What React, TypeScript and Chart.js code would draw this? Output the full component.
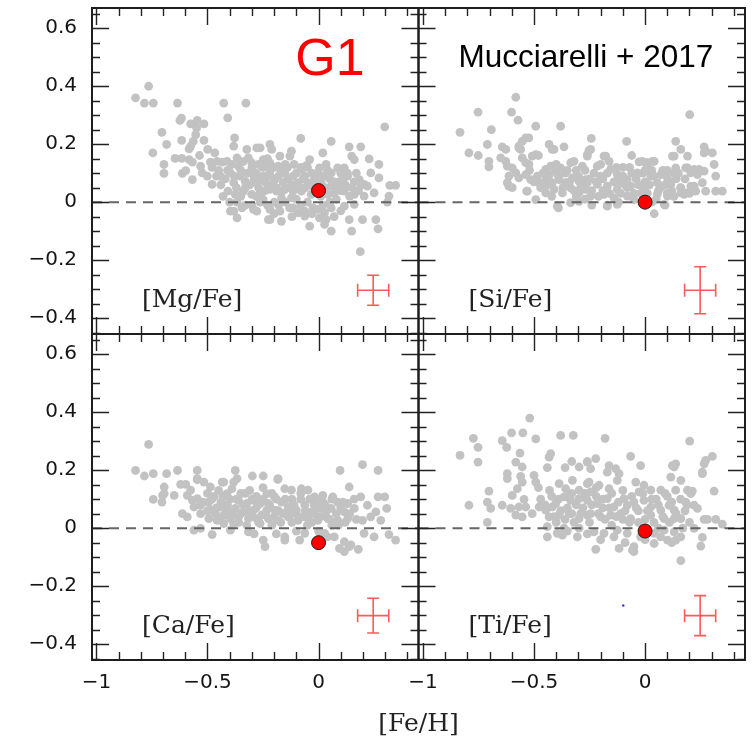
import { useEffect, useRef } from 'react';
import { Chart, registerables } from 'chart.js';

Chart.register(...registerables);

// ---------- axes ----------
const X_MIN = -1.02;
const X_MAX = 0.45;
const Y_MIN = -0.455;
const Y_MAX = 0.67;
const X_TICKS = [-1, -0.5, 0];
const Y_TICKS = [-0.4, -0.2, 0, 0.2, 0.4, 0.6];
const X_TITLE = '[Fe/H]';
const PANEL_LABELS = ['[Mg/Fe]', '[Si/Fe]', '[Ca/Fe]', '[Ti/Fe]'];
const TITLE_G1 = 'G1';
const TITLE_REF = 'Mucciarelli + 2017';

// ---------- data: [Fe/H], [X/Fe] ----------
const MG_POINTS: number[][] = [
  [-0.824,0.36],[-0.765,0.40],[-0.784,0.342],[-0.744,0.342],[-0.635,0.342],[-0.427,0.342],[-0.327,0.342],[-0.409,0.291],
  [-0.617,0.29],[-0.624,0.282],[-0.576,0.27],[-0.546,0.282],[-0.516,0.27],[-0.549,0.256],[-0.705,0.241],[-0.553,0.233],
  [-0.684,0.199],[-0.616,0.213],[-0.564,0.21],[-0.576,0.193],[-0.583,0.184],[-0.516,0.213],[-0.378,0.222],[-0.382,0.193],
  [-0.499,0.182],[-0.467,0.17],[-0.536,0.161],[-0.746,0.17],[-0.646,0.151],[-0.616,0.151],[-0.583,0.147],[-0.568,0.138],
  [-0.696,0.13],[-0.696,0.099],[-0.613,0.099],[-0.598,0.109],[-0.568,0.078],[-0.531,0.124],[-0.524,0.101],[-0.501,0.09],
  [-0.487,0.138],[-0.457,0.141],[-0.434,0.138],[-0.412,0.141],[-0.479,0.061],[-0.442,0.09],[-0.397,0.101],[-0.367,0.153],
  [-0.36,0.124],[-0.382,0.067],[-0.323,0.182],[-0.316,0.153],[-0.301,0.136],[-0.278,0.187],[-0.263,0.187],[-0.353,0.09],
  [-0.33,0.072],[-0.308,0.101],[-0.278,0.067],[-0.249,0.09],[-0.408,0.038],[-0.375,0.027],[-0.338,0.038],[-0.301,0.027],
  [-0.263,0.032],[-0.382,-0.031],[-0.367,-0.054],[-0.345,-0.02],[-0.293,-0.025],[-0.278,-0.031],[-0.226,-0.06],[-0.249,0.147],
  [-0.233,0.124],[-0.226,0.055],[-0.367,0.0],[-0.263,0.0],[-0.397,-0.031],
  [-0.08,0.22],[0.057,0.21],[-0.219,0.199],[-0.211,0.182],[-0.174,0.159],[-0.129,0.159],[-0.122,0.176],[0.138,0.191],
  [0.19,0.191],[0.019,0.17],[-0.04,0.147],[-0.055,0.126],[-0.077,0.113],[0.034,0.13],[0.004,0.118],[0.057,0.101],
  [0.086,0.118],[0.149,0.159],[0.161,0.147],[0.228,0.149],[0.272,0.13],[0.235,0.101],[0.272,0.084],[0.116,0.118],
  [0.131,0.09],[0.183,0.078],[0.205,0.061],[0.321,0.058],[0.347,0.058],[0.317,0.021],[0.22,0.055],[0.25,0.032],
  [0.116,0.038],[0.161,0.027],[0.205,0.021],[-0.219,0.136],[-0.182,0.124],[-0.152,0.101],[-0.226,0.09],[-0.196,0.078],
  [-0.159,0.067],[-0.115,0.09],[-0.092,0.067],[-0.062,0.09],[-0.048,0.067],[-0.077,0.038],[-0.033,0.027],[-0.219,0.044],
  [-0.189,0.038],[-0.152,0.044],[-0.115,0.038],[-0.122,0.015],[-0.167,0.015],[0.057,0.055],[0.086,0.044],[0.042,0.027],
  [0.012,0.067],[-0.018,0.084],[-0.003,0.101],
  [-0.219,-0.025],[-0.174,-0.031],[-0.115,-0.02],[-0.092,-0.037],[-0.062,-0.031],[-0.025,-0.02],[-0.003,-0.025],[0.027,-0.037],
  [0.057,-0.02],[-0.219,-0.06],[-0.167,-0.066],[-0.062,-0.048],[-0.04,-0.083],[0.034,-0.06],[0.027,-0.077],[0.057,-0.1],
  [0.138,-0.06],[0.198,-0.06],[0.258,-0.06],[0.149,-0.1],[0.268,-0.092],[0.188,-0.171],[0.116,-0.014],[0.161,-0.008],
  [0.298,0.26],[0.004,-0.054],[0.31,0.0],
  [-0.45,0.11],[-0.42,0.08],[-0.39,0.13],[-0.35,0.11],[-0.33,0.05],[-0.3,0.12],[-0.28,0.1],[-0.27,0.05],
  [-0.25,0.12],[-0.24,0.07],[-0.22,0.1],[-0.2,0.08],[-0.19,0.05],[-0.17,0.11],[-0.14,0.12],[-0.13,0.05],
  [-0.1,0.1],[-0.08,0.12],[-0.06,0.05],[-0.03,0.1],[-0.02,0.04],[0.02,0.09],[0.05,0.08],[0.07,0.03],
  [0.09,0.07],[0.1,0.1],[0.12,0.06],[0.14,0.02],[0.16,0.07],[0.18,0.04],[-0.4,0.0],[-0.35,0.02],
  [-0.3,-0.01],[-0.25,0.01],[-0.2,0.0],[-0.15,0.0],[-0.1,0.01],[-0.05,0.0],[0.05,0.0],[0.08,0.01],
  [-0.48,0.12],[-0.46,0.09],[-0.44,0.06],[-0.41,0.11],[-0.38,0.09],[-0.37,0.05],[-0.34,0.14],[-0.32,0.1],
  [-0.31,0.06],[-0.29,0.08],[-0.27,0.13],[-0.26,0.08],[-0.24,0.04],[-0.23,0.15],[-0.21,0.06],[-0.2,0.12],
  [-0.18,0.09],[-0.16,0.04],[-0.15,0.13],[-0.14,0.08],[-0.12,0.06],[-0.11,0.13],[-0.09,0.05],[-0.07,0.08],
  [-0.05,0.12],[-0.04,0.06],[-0.01,0.07],[0.01,0.02],[0.03,0.05],[0.04,0.11],[0.07,0.07],[0.1,0.04],
  [0.11,0.08],[0.13,0.1],[0.15,0.05],[0.17,0.1],[0.19,0.06],[-0.33,-0.01],[-0.28,0.02],[-0.23,-0.01],
  [-0.18,-0.01],[-0.13,-0.02],[-0.08,-0.01],[-0.03,-0.04],[0.02,-0.01],[0.1,-0.03],[0.07,-0.05],[-0.12,-0.05],
  [-0.2,-0.04],[-0.43,0.02],
];

const SI_POINTS: number[][] = [
  [-0.582,0.362],[-0.752,0.311],[-0.601,0.311],[-0.572,0.283],[-0.833,0.241],[-0.692,0.25],[-0.492,0.262],[-0.38,0.262],
  [0.201,0.302],[-0.793,0.17],[-0.751,0.161],[-0.71,0.199],[-0.537,0.222],[-0.553,0.21],[-0.568,0.187],[-0.643,0.191],
  [-0.627,0.182],[-0.703,0.141],[-0.703,0.122],[-0.65,0.153],[-0.492,0.164],[-0.508,0.159],[-0.432,0.199],[-0.418,0.182],
  [-0.365,0.191],[-0.242,0.22],[-0.252,0.179],[-0.26,0.164],[-0.083,0.21],[-0.177,0.159],[-0.162,0.141],[-0.06,0.161],
  [-0.027,0.139],[0.01,0.136],[0.041,0.141],[0.138,0.21],[0.161,0.182],[0.131,0.159],[0.191,0.159],[0.266,0.191],
  [0.266,0.17],[0.303,0.17],[0.183,0.118],[0.221,0.113],[0.266,0.107],[0.311,0.13],[0.318,0.09],[0.258,0.067],
  [0.221,0.055],[0.183,0.032],[0.228,0.038],[0.273,0.038],[0.318,0.038],[0.348,0.038],[0.041,-0.04],[0.09,-0.01],
  [-0.39,-0.02],[-0.492,0.009],[-0.24,-0.01],[-0.17,-0.01],[-0.533,0.038],[-0.62,0.067],[-0.613,0.055],
  [-0.568,0.193],[-0.56,0.182],[-0.523,0.222],[-0.41,0.182],[-0.627,0.141],[-0.62,0.124],[-0.553,0.153],[-0.537,0.136],
  [-0.523,0.13],[-0.48,0.161],[-0.598,0.118],[-0.582,0.101],[-0.613,0.09],[-0.598,0.05],[-0.568,0.084],[-0.537,0.095],
  [-0.515,0.078],[-0.485,0.09],[-0.477,0.067],[-0.53,0.038],[-0.447,0.113],[-0.425,0.124],[-0.402,0.107],[-0.38,0.118],
  [-0.335,0.136],[-0.32,0.141],[-0.282,0.124],[-0.447,0.078],[-0.418,0.067],[-0.387,0.078],[-0.357,0.067],[-0.327,0.084],
  [-0.297,0.072],[-0.267,0.078],[-0.447,0.032],[-0.41,0.044],[-0.372,0.032],[-0.335,0.049],[-0.297,0.032],[-0.267,0.044],
  [-0.395,-0.014],[-0.335,-0.002],[-0.297,0.003],
  [-0.245,0.182],[-0.26,0.159],[-0.185,0.159],[-0.012,0.141],[0.033,0.141],[0.01,0.124],[0.191,0.118],[0.243,0.113],
  [0.206,0.101],[0.236,0.095],[0.123,0.159],[0.138,0.118],[0.131,0.101],[-0.215,0.124],[-0.155,0.113],[-0.125,0.095],
  [-0.08,0.078],[-0.035,0.101],[0.026,0.09],[0.071,0.095],[0.101,0.084],[-0.26,0.067],[-0.215,0.061],[-0.17,0.055],
  [-0.125,0.044],[-0.065,0.055],[-0.005,0.049],[0.055,0.067],[0.116,0.061],[0.161,0.049],[0.206,0.055],[-0.245,0.021],
  [-0.185,0.027],[-0.14,0.015],[-0.08,0.021],[-0.05,0.009],[0.055,0.027],[0.101,0.021],[0.161,0.032],[0.176,0.027],
  [-0.17,-0.014],[-0.125,-0.008],[0.086,-0.008],[0.273,0.176],
  [-0.23,0.1],[-0.2,0.09],[-0.19,0.04],[-0.1,0.12],[-0.09,0.06],[-0.04,0.08],[0.0,0.07],[0.03,0.11],
  [0.06,0.04],[0.09,0.06],[0.12,0.04],[0.14,0.08],[-0.47,0.05],[-0.43,0.095],[-0.36,0.1],[-0.31,0.11],
  [-0.28,0.055],[-0.11,0.07],[-0.02,0.03],[0.1,0.11],[-0.31,0.02],[-0.06,0.1],
  [-0.46,0.1],[-0.44,0.06],[-0.42,0.02],[-0.39,0.09],[-0.37,0.05],[-0.35,0.11],[-0.34,0.07],[-0.32,0.04],
  [-0.3,0.09],[-0.29,0.05],[-0.27,0.11],[-0.25,0.08],[-0.24,0.04],[-0.22,0.07],[-0.21,0.02],[-0.19,0.08],
  [-0.17,0.1],[-0.16,0.03],[-0.14,0.07],[-0.13,0.12],[-0.11,0.03],[-0.1,0.09],[-0.08,0.05],[-0.07,0.12],
  [-0.05,0.03],[-0.03,0.06],[-0.01,0.1],[0.01,0.03],[0.02,0.06],[0.04,0.09],[0.05,0.01],[0.07,0.05],
  [0.08,0.11],[0.1,0.03],[0.11,0.07],[0.13,0.02],[0.15,0.1],[0.16,0.05],[0.18,0.08],[0.2,0.03],
  [-0.5,0.07],[-0.52,0.11],[-0.4,0.13],[-0.2,0.13],[0.0,0.11],[-0.12,0.0],[-0.27,0.01],[0.03,0.0],
];

const CA_POINTS: number[][] = [
  [-0.765,0.289],[-0.824,0.199],[-0.784,0.18],[-0.744,0.188],[-0.684,0.188],[-0.635,0.199],[-0.546,0.199],[-0.375,0.199],
  [-0.298,0.18],[-0.249,0.18],[-0.184,0.168],[0.097,0.199],[0.198,0.219],[0.268,0.199],[-0.744,0.099],[-0.705,0.09],
  [-0.695,0.142],[-0.695,0.119],[-0.65,0.113],[-0.621,0.151],[-0.598,0.151],[-0.613,0.05],[-0.546,0.167],[-0.487,0.142],
  [-0.434,0.159],[-0.382,0.159],[0.138,0.142],[0.22,0.079],[0.268,0.108],[0.298,0.108],[0.307,0.068],[0.258,0.056],
  [0.198,0.027],[0.347,-0.041],[0.317,-0.022],[0.179,-0.073],[0.116,-0.081],[0.138,-0.064],[0.094,-0.07],[-0.241,-0.064],
  [-0.249,-0.041],[-0.152,-0.041],[-0.085,-0.041],[-0.479,-0.022],[-0.561,-0.007],[-0.531,-0.001],
  [-0.546,0.171],[-0.516,0.159],[-0.367,0.171],[-0.427,0.159],[-0.412,0.119],[-0.39,0.136],[-0.702,0.113],[-0.576,0.131],
  [-0.591,0.113],[-0.568,0.096],[-0.546,0.102],[-0.561,0.073],[-0.531,0.079],[-0.591,0.039],[-0.531,0.05],[-0.494,0.09],
  [-0.487,0.062],[-0.494,0.033],[-0.464,0.05],[-0.442,0.073],[-0.457,0.027],[-0.427,0.045],[-0.412,0.062],[-0.397,0.033],
  [-0.375,0.068],[-0.36,0.039],[-0.338,0.056],[-0.316,0.033],[-0.293,0.062],[-0.278,0.033],[-0.256,0.045],[-0.233,0.062],
  [-0.233,0.119],[-0.427,0.016],[-0.382,0.016],[-0.323,0.01],[-0.263,0.016],[-0.36,0.096],[-0.323,0.085],[-0.293,0.096],
  [-0.263,0.085],[-0.397,-0.007],[-0.316,-0.013],
  [-0.182,0.171],[-0.152,0.136],[-0.122,0.131],[-0.077,0.136],[-0.048,0.131],[-0.018,0.108],[0.019,0.113],[0.064,0.108],
  [0.19,0.108],[0.131,0.085],[0.086,0.09],[0.057,0.068],[0.116,0.056],[0.161,0.068],[-0.226,0.085],[-0.196,0.062],
  [-0.167,0.09],[-0.137,0.073],[-0.1,0.062],[-0.062,0.079],[-0.033,0.056],[0.004,0.068],[0.034,0.056],[-0.226,0.033],
  [-0.182,0.027],[-0.137,0.039],[-0.092,0.027],[-0.048,0.033],[-0.003,0.027],[0.042,0.033],[0.086,0.027],[0.131,0.033],
  [0.235,0.039],[0.28,0.027],[-0.152,-0.03],[-0.062,-0.018],[0.027,-0.018],[0.071,-0.03],[0.116,-0.047],[0.146,-0.058],
  [0.205,-0.018],[0.25,-0.03],
  [-0.47,0.11],[-0.44,0.09],[-0.4,0.1],[-0.35,0.12],[-0.31,0.13],[-0.28,0.11],[-0.25,0.14],[-0.21,0.12],
  [-0.19,0.1],[-0.12,0.1],[-0.08,0.1],[-0.02,0.08],[0.02,0.09],[0.1,0.07],[-0.35,0.05],[-0.3,0.04],
  [-0.2,0.04],[-0.16,0.05],[-0.12,0.05],[-0.07,0.04],[-0.03,0.02],[0.06,0.01],[-0.5,0.12],[-0.45,0.13],
  [-0.52,0.09],[-0.5,0.06],[-0.48,0.1],[-0.46,0.07],[-0.45,0.03],[-0.43,0.11],[-0.41,0.08],[-0.39,0.05],
  [-0.37,0.1],[-0.36,0.02],[-0.34,0.08],[-0.33,0.12],[-0.31,0.06],[-0.3,0.1],[-0.28,0.07],[-0.27,0.02],
  [-0.25,0.1],[-0.24,0.05],[-0.22,0.08],[-0.21,0.01],[-0.2,0.11],[-0.18,0.06],[-0.17,0.02],[-0.15,0.1],
  [-0.14,0.06],[-0.12,0.02],[-0.11,0.08],[-0.09,0.04],[-0.08,0.12],[-0.06,0.06],[-0.05,0.01],[-0.04,0.1],
  [-0.02,0.05],[0.0,0.09],[0.01,0.04],[0.03,0.08],[0.05,0.03],[0.06,0.1],[0.08,0.05],[0.09,0.01],
  [0.11,0.09],[0.12,0.02],[0.14,0.05],[0.16,0.1],[0.17,0.03],[-0.29,-0.02],[-0.19,-0.02],[-0.1,-0.01],
  [0.0,-0.01],[0.04,-0.03],
];

const TI_POINTS: number[][] = [
  [-0.519,0.38],[-0.773,0.31],[-0.752,0.279],[-0.833,0.251],[-0.752,0.228],[-0.643,0.302],[-0.623,0.279],[-0.601,0.329],
  [-0.55,0.329],[-0.492,0.308],[-0.38,0.32],[-0.323,0.32],[-0.18,0.31],[0.201,0.3],[-0.425,0.257],[-0.432,0.245],
  [-0.563,0.259],[-0.582,0.228],[-0.553,0.211],[-0.5,0.182],[-0.492,0.159],[-0.62,0.188],[-0.62,0.171],[-0.703,0.128],
  [-0.71,0.09],[-0.793,0.079],[-0.71,0.02],[-0.065,0.248],[-0.02,0.216],[0.131,0.211],[0.138,0.222],[0.266,0.222],
  [0.273,0.234],[0.303,0.248],[0.258,0.188],[0.116,0.176],[0.161,0.165],[0.311,0.128],[0.191,0.131],[0.213,0.128],
  [0.183,0.09],[0.221,0.079],[0.266,0.03],[0.281,0.03],[0.318,0.03],[0.348,0.014],[0.258,-0.032],[0.251,-0.062],
  [0.161,-0.112],[-0.057,-0.076],[-0.222,-0.073],
  [-0.44,0.209],[-0.36,0.209],[-0.33,0.23],[-0.297,0.211],[-0.26,0.23],[-0.56,0.179],[-0.553,0.159],[-0.695,0.068],
  [-0.575,0.136],[-0.598,0.113],[-0.545,0.099],[-0.643,0.079],[-0.605,0.068],[-0.568,0.073],[-0.537,0.073],[-0.582,0.045],
  [-0.553,0.039],[-0.508,0.05],[-0.477,0.073],[-0.447,0.062],[-0.418,0.073],[-0.402,0.085],[-0.387,0.154],[-0.357,0.136],
  [-0.327,0.165],[-0.297,0.131],[-0.26,0.154],[-0.365,0.108],[-0.335,0.096],[-0.297,0.102],[-0.267,0.108],[-0.432,0.039],
  [-0.387,0.045],[-0.342,0.05],[-0.297,0.033],[-0.26,0.045],[-0.44,-0.03],[-0.395,-0.018],[-0.372,-0.024],[-0.305,-0.03],
  [-0.44,0.005],[-0.365,0.0],[-0.297,0.0],
  [-0.26,0.228],[-0.222,0.24],[-0.245,0.205],[-0.162,0.216],[-0.17,0.193],[-0.132,0.205],[-0.117,0.188],[-0.125,0.165],
  [0.123,0.216],[0.258,0.193],[-0.252,0.159],[-0.207,0.148],[-0.245,0.125],[-0.162,0.136],[-0.042,0.159],[-0.005,0.148],
  [-0.027,0.125],[0.026,0.131],[0.071,0.131],[0.138,0.131],[0.206,0.119],[0.236,0.068],[-0.26,0.096],[-0.215,0.085],
  [-0.17,0.102],[-0.14,0.073],[-0.095,0.102],[-0.08,0.079],[-0.05,0.09],[-0.005,0.096],[0.026,0.073],[0.071,0.062],
  [0.108,0.079],[0.131,0.062],[-0.245,0.05],[-0.2,0.039],[-0.155,0.045],[-0.11,0.05],[-0.065,0.033],[0.026,0.045],
  [0.086,0.033],[0.131,0.033],[0.161,0.033],[-0.23,-0.013],[-0.185,-0.018],[-0.125,-0.007],[-0.08,-0.018],[0.041,-0.018],
  [0.086,-0.007],[0.131,-0.013],[-0.117,-0.07],[-0.05,-0.081],[-0.05,-0.064],[0.041,-0.053],[0.101,-0.041],[0.138,-0.041],
  [0.161,-0.03],[0.221,-0.001],
  [-0.47,0.1],[-0.42,0.11],[-0.4,0.02],[-0.35,0.07],[-0.32,0.02],[-0.28,0.07],[-0.22,0.11],[-0.19,0.07],
  [-0.15,0.01],[-0.1,0.03],[-0.03,0.06],[0.0,0.03],[0.05,0.1],[0.06,0.0],[0.1,0.11],[-0.02,-0.03],
  [0.18,0.06],[0.2,0.02],[-0.33,0.12],[-0.48,0.14],
  [-0.45,0.08],[-0.43,0.13],[-0.41,0.04],[-0.39,0.1],[-0.38,0.06],[-0.36,0.03],[-0.34,0.11],[-0.33,0.05],
  [-0.31,0.08],[-0.29,0.05],[-0.27,0.12],[-0.25,0.02],[-0.24,0.08],[-0.22,0.14],[-0.21,0.05],[-0.19,0.1],
  [-0.18,0.03],[-0.16,0.07],[-0.15,0.12],[-0.13,0.04],[-0.12,0.09],[-0.1,0.13],[-0.09,0.06],[-0.07,0.02],
  [-0.06,0.11],[-0.04,0.07],[-0.03,0.02],[-0.01,0.12],[0.01,0.06],[0.03,0.1],[0.04,0.02],[0.06,0.08],
  [0.08,0.04],[0.09,0.12],[0.11,0.02],[0.12,0.09],[0.14,0.05],[0.16,0.1],[0.17,0.0],[0.19,0.08],
  [-0.35,-0.01],[-0.26,-0.02],[-0.2,-0.04],[-0.14,-0.03],[-0.09,-0.05],[0.0,-0.04],[0.07,-0.03],[0.12,-0.05],
];

// G1 values ([Fe/H], [X/Fe]) for Mg, Si, Ca, Ti
const G1_FEH = [0.0, 0.0, 0.0, 0.0];
const G1_XFE = [0.04, 0.0, -0.05, -0.01];

// typical error bars
const ERR_X = [0.246, 0.248, 0.246, 0.248];
const ERR_Y = [-0.304, -0.304, -0.302, -0.302];
const ERR_XHALF = [0.07, 0.07, 0.07, 0.07];
const ERR_YHALF = [0.052, 0.081, 0.06, 0.069];

const STRAY_POINT = [[-0.098, -0.267]];

// ---------- layout of the 2x2 grid ----------
const PANELS = [
  { x: 'xL', y: 'yT', pts: MG_POINTS },
  { x: 'xR', y: 'yT', pts: SI_POINTS },
  { x: 'xL', y: 'yB', pts: CA_POINTS },
  { x: 'xR', y: 'yB', pts: TI_POINTS },
];

const fmt = (v: number) => {
  const r = Math.round(v * 10) / 10;
  if (r === 0) return '0';
  const a = Math.abs(r);
  const s = Number.isInteger(a) ? String(a) : a.toFixed(1);
  return (r < 0 ? '\u2212' : '') + s;
};

function axis(min: number, max: number, ticks: number[], padding: number, extra: any) {
  return {
    type: 'linear',
    min,
    max,
    grid: { display: false, drawTicks: false },
    border: { display: false },
    afterBuildTicks: (s: any) => {
      s.ticks = ticks.map((v) => ({ value: v }));
    },
    ticks: {
      font: { family: 'DejaVu Sans', size: 20 },
      color: '#151515',
      padding,
      autoSkip: false,
      maxRotation: 0,
      callback: (v: any) => fmt(Number(v)),
    },
    ...extra,
  };
}

const fitY = (s: any) => { s.width = 92; s.paddingTop = 0; s.paddingBottom = 0; };
const fitX = (s: any) => { s.height = 80; s.paddingLeft = 0; s.paddingRight = 0; };

const framePlugin = {
  id: 'frames',
  afterDraw(chart: any) {
    const ctx = chart.ctx as CanvasRenderingContext2D;
    ctx.save();
    PANELS.forEach((p, i) => {
      const xs = chart.scales[p.x];
      const ys = chart.scales[p.y];
      const L = xs.left, R = xs.right, T = ys.top, B = ys.bottom;
      // ticks
      ctx.strokeStyle = '#222';
      ctx.lineWidth = 1.4;
      ctx.beginPath();
      for (let k = -10; k <= 4; k++) {
        const px = Math.round(xs.getPixelForValue(k / 10)) + 0.5;
        const len = k % 5 === 0 ? 17 : 8;
        ctx.moveTo(px, B); ctx.lineTo(px, B - len);
        ctx.moveTo(px, T); ctx.lineTo(px, T + len);
      }
      for (let k = -9; k <= 13; k++) {
        const py = Math.round(ys.getPixelForValue(k * 0.05)) + 0.5;
        const len = k % 4 === 0 ? 17 : 8;
        ctx.moveTo(L, py); ctx.lineTo(L + len, py);
        ctx.moveTo(R, py); ctx.lineTo(R - len, py);
      }
      ctx.stroke();
      // frame
      ctx.lineWidth = 2;
      ctx.strokeStyle = '#1e1e1e';
      ctx.strokeRect(L, T, R - L, B - T);

      // error bar
      const cx = xs.getPixelForValue(ERR_X[i]);
      const cy = ys.getPixelForValue(ERR_Y[i]);
      const x0 = xs.getPixelForValue(ERR_X[i] - ERR_XHALF[i]);
      const x1 = xs.getPixelForValue(ERR_X[i] + ERR_XHALF[i]);
      const y0 = ys.getPixelForValue(ERR_Y[i] + ERR_YHALF[i]);
      const y1 = ys.getPixelForValue(ERR_Y[i] - ERR_YHALF[i]);
      ctx.strokeStyle = '#ff5a5a';
      ctx.lineWidth = 1.6;
      ctx.beginPath();
      ctx.moveTo(x0, cy); ctx.lineTo(x1, cy);
      ctx.moveTo(cx, y0); ctx.lineTo(cx, y1);
      ctx.moveTo(x0, cy - 6.5); ctx.lineTo(x0, cy + 6.5);
      ctx.moveTo(x1, cy - 6.5); ctx.lineTo(x1, cy + 6.5);
      ctx.moveTo(cx - 6, y0); ctx.lineTo(cx + 6, y0);
      ctx.moveTo(cx - 6, y1); ctx.lineTo(cx + 6, y1);
      ctx.stroke();

      // panel label
      ctx.fillStyle = '#222';
      ctx.font = '25px "DejaVu Serif"';
      ctx.textAlign = 'left';
      ctx.textBaseline = 'alphabetic';
      ctx.fillText(PANEL_LABELS[i], L + 50, B - 27);
    });

    const a = chart.chartArea;
    // x-axis title
    ctx.fillStyle = '#222';
    ctx.font = '25px "DejaVu Serif"';
    ctx.textAlign = 'center';
    ctx.fillText(X_TITLE, (a.left + a.right) / 2, 731);

    // titles
    const tl = chart.scales.xL;
    const tr = chart.scales.xR;
    const top = chart.scales.yT.top;
    ctx.fillStyle = '#ff0000';
    ctx.font = '52px "Liberation Sans"';
    ctx.textAlign = 'center';
    ctx.fillText(TITLE_G1, tl.left + 238, top + 67);
    ctx.fillStyle = '#000';
    ctx.font = '31.5px "Liberation Sans"';
    ctx.textAlign = 'left';
    ctx.fillText(TITLE_REF, tr.left + 40, top + 59);
    ctx.restore();
  },
};

export default function App() {
  const ref = useRef<HTMLCanvasElement | null>(null);

  useEffect(() => {
    if (!ref.current) return;
    const datasets: any[] = [];
    PANELS.forEach((p, i) => {
      datasets.push({
        label: 'G1 ' + PANEL_LABELS[i],
        data: [{ x: G1_FEH[i], y: G1_XFE[i] }],
        xAxisID: p.x,
        yAxisID: p.y,
        pointRadius: 7,
        pointBackgroundColor: '#ff0000',
        pointBorderColor: '#1a1a1a',
        pointBorderWidth: 1,
        order: 0,
      });
      datasets.push({
        label: 'zero ' + PANEL_LABELS[i],
        data: [{ x: X_MIN, y: 0 }, { x: X_MAX, y: 0 }],
        xAxisID: p.x,
        yAxisID: p.y,
        showLine: true,
        pointRadius: 0,
        borderColor: '#666666',
        borderWidth: 2,
        borderDash: [10, 7],
        order: 1,
      });
      datasets.push({
        label: 'stars ' + PANEL_LABELS[i],
        data: p.pts.map(([x, y]) => ({ x, y })),
        xAxisID: p.x,
        yAxisID: p.y,
        pointRadius: 4.4,
        pointBackgroundColor: '#c2c2c2',
        pointBorderWidth: 0,
        order: 2,
      });
    });
    datasets.push({
      label: 'stray',
      data: STRAY_POINT.map(([x, y]) => ({ x, y })),
      xAxisID: 'xR',
      yAxisID: 'yB',
      pointRadius: 1.2,
      pointBackgroundColor: '#3030ff',
      pointBorderWidth: 0,
      order: 0,
    });

    const chart = new Chart(ref.current, {
      type: 'scatter',
      data: { datasets },
      options: {
        responsive: false,
        animation: false,
        events: [],
        layout: { padding: { top: 6, right: 8, left: 0, bottom: 0 } },
        plugins: { legend: { display: false }, tooltip: { enabled: false } },
        scales: {
          xL: axis(X_MIN, X_MAX, X_TICKS, 11, { position: 'bottom', stack: 'cols', stackWeight: 1, afterFit: fitX }),
          xR: axis(X_MIN, X_MAX, X_TICKS, 11, { position: 'bottom', stack: 'cols', stackWeight: 1, afterFit: fitX }),
          yB: axis(Y_MIN, Y_MAX, Y_TICKS, 15, { position: 'left', stack: 'rows', stackWeight: 1, afterFit: fitY }),
          yT: axis(Y_MIN, Y_MAX, Y_TICKS, 15, { position: 'left', stack: 'rows', stackWeight: 1, afterFit: fitY }),
        } as any,
      },
      plugins: [framePlugin],
    });
    return () => chart.destroy();
  }, []);

  return (
    <div style={{ position: 'absolute', left: 0, top: 0, width: 753, height: 740, background: '#fff' }}>
      <canvas ref={ref} width={753} height={740} style={{ display: 'block' }} />
    </div>
  );
}
